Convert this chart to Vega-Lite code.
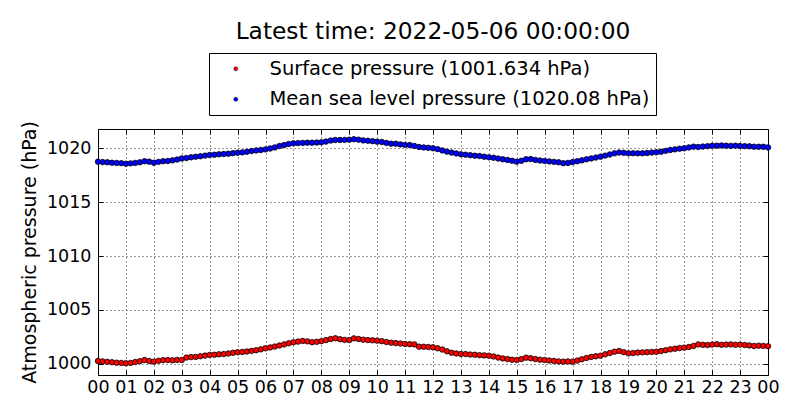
{
"$schema": "https://vega.github.io/schema/vega-lite/v6.json",
"width": 670, "height": 246,
"autosize": {"type": "none"},
"padding": {"left": 98, "top": 129, "right": 32, "bottom": 45},
"background": "white",
"title": {"text": "Latest time: 2022-05-06 00:00:00", "font": "DejaVu Sans", "fontSize": 23.3, "fontWeight": "normal", "color": "black", "anchor": "middle", "frame": "group", "baseline": "alphabetic", "offset": -10},
"datasets": {
"sp": [
{"m":0,"v":1000.26},{"m":10,"v":1000.22},{"m":20,"v":1000.18},{"m":30,"v":1000.14},{"m":40,"v":1000.10},{"m":50,"v":1000.08},
{"m":60,"v":1000.05},{"m":70,"v":1000.08},{"m":80,"v":1000.16},{"m":90,"v":1000.24},{"m":100,"v":1000.35},{"m":110,"v":1000.26},
{"m":120,"v":1000.20},{"m":130,"v":1000.28},{"m":140,"v":1000.34},{"m":150,"v":1000.35},{"m":160,"v":1000.32},{"m":170,"v":1000.36},
{"m":180,"v":1000.35},{"m":190,"v":1000.58},{"m":200,"v":1000.62},{"m":210,"v":1000.64},{"m":220,"v":1000.70},{"m":230,"v":1000.76},
{"m":240,"v":1000.82},{"m":250,"v":1000.84},{"m":260,"v":1000.88},{"m":270,"v":1000.90},{"m":280,"v":1000.96},{"m":290,"v":1001.02},
{"m":300,"v":1001.07},{"m":310,"v":1001.10},{"m":320,"v":1001.14},{"m":330,"v":1001.20},{"m":340,"v":1001.26},{"m":350,"v":1001.34},
{"m":360,"v":1001.44},{"m":370,"v":1001.52},{"m":380,"v":1001.60},{"m":390,"v":1001.70},{"m":400,"v":1001.80},{"m":410,"v":1001.90},
{"m":420,"v":1002.00},{"m":430,"v":1002.06},{"m":440,"v":1002.12},{"m":450,"v":1002.08},{"m":460,"v":1002.00},{"m":470,"v":1002.04},
{"m":480,"v":1002.10},{"m":490,"v":1002.20},{"m":500,"v":1002.30},{"m":510,"v":1002.37},{"m":520,"v":1002.28},{"m":530,"v":1002.22},
{"m":540,"v":1002.20},{"m":550,"v":1002.36},{"m":560,"v":1002.30},{"m":570,"v":1002.24},{"m":580,"v":1002.20},{"m":590,"v":1002.18},
{"m":600,"v":1002.15},{"m":610,"v":1002.10},{"m":620,"v":1002.02},{"m":630,"v":1001.96},{"m":640,"v":1001.92},{"m":650,"v":1001.88},
{"m":660,"v":1001.84},{"m":670,"v":1001.82},{"m":680,"v":1001.80},{"m":690,"v":1001.59},{"m":700,"v":1001.58},{"m":710,"v":1001.56},
{"m":720,"v":1001.53},{"m":730,"v":1001.44},{"m":740,"v":1001.32},{"m":750,"v":1001.16},{"m":760,"v":1001.02},{"m":770,"v":1000.96},
{"m":780,"v":1000.91},{"m":790,"v":1000.90},{"m":800,"v":1000.86},{"m":810,"v":1000.84},{"m":820,"v":1000.80},{"m":830,"v":1000.78},
{"m":840,"v":1000.75},{"m":850,"v":1000.68},{"m":860,"v":1000.58},{"m":870,"v":1000.50},{"m":880,"v":1000.44},{"m":890,"v":1000.38},
{"m":900,"v":1000.35},{"m":910,"v":1000.44},{"m":920,"v":1000.57},{"m":930,"v":1000.52},{"m":940,"v":1000.44},{"m":950,"v":1000.38},
{"m":960,"v":1000.35},{"m":970,"v":1000.30},{"m":980,"v":1000.26},{"m":990,"v":1000.22},{"m":1000,"v":1000.20},{"m":1010,"v":1000.22},
{"m":1020,"v":1000.20},{"m":1030,"v":1000.30},{"m":1040,"v":1000.42},{"m":1050,"v":1000.54},{"m":1060,"v":1000.64},{"m":1070,"v":1000.70},
{"m":1080,"v":1000.75},{"m":1090,"v":1000.88},{"m":1100,"v":1001.00},{"m":1110,"v":1001.12},{"m":1120,"v":1001.19},{"m":1130,"v":1001.08},
{"m":1140,"v":1000.97},{"m":1150,"v":1001.00},{"m":1160,"v":1001.04},{"m":1170,"v":1001.06},{"m":1180,"v":1001.08},{"m":1190,"v":1001.10},
{"m":1200,"v":1001.12},{"m":1210,"v":1001.18},{"m":1220,"v":1001.26},{"m":1230,"v":1001.34},{"m":1240,"v":1001.40},{"m":1250,"v":1001.46},
{"m":1260,"v":1001.50},{"m":1270,"v":1001.56},{"m":1280,"v":1001.66},{"m":1290,"v":1001.80},{"m":1300,"v":1001.76},{"m":1310,"v":1001.74},
{"m":1320,"v":1001.78},{"m":1330,"v":1001.82},{"m":1340,"v":1001.76},{"m":1350,"v":1001.78},{"m":1360,"v":1001.80},{"m":1370,"v":1001.76},
{"m":1380,"v":1001.78},{"m":1390,"v":1001.74},{"m":1400,"v":1001.70},{"m":1410,"v":1001.65},{"m":1420,"v":1001.68},{"m":1430,"v":1001.66},
{"m":1440,"v":1001.634}
],
"msl": [
{"m":0,"v":1018.76},{"m":10,"v":1018.72},{"m":20,"v":1018.70},{"m":30,"v":1018.66},{"m":40,"v":1018.64},{"m":50,"v":1018.62},
{"m":60,"v":1018.57},{"m":70,"v":1018.60},{"m":80,"v":1018.64},{"m":90,"v":1018.70},{"m":100,"v":1018.80},{"m":110,"v":1018.76},
{"m":120,"v":1018.66},{"m":130,"v":1018.74},{"m":140,"v":1018.80},{"m":150,"v":1018.82},{"m":160,"v":1018.88},{"m":170,"v":1018.96},
{"m":180,"v":1019.06},{"m":190,"v":1019.10},{"m":200,"v":1019.16},{"m":210,"v":1019.22},{"m":220,"v":1019.26},{"m":230,"v":1019.32},
{"m":240,"v":1019.38},{"m":250,"v":1019.40},{"m":260,"v":1019.44},{"m":270,"v":1019.47},{"m":280,"v":1019.50},{"m":290,"v":1019.55},
{"m":300,"v":1019.59},{"m":310,"v":1019.62},{"m":320,"v":1019.68},{"m":330,"v":1019.75},{"m":340,"v":1019.80},{"m":350,"v":1019.84},
{"m":360,"v":1019.90},{"m":370,"v":1019.98},{"m":380,"v":1020.08},{"m":390,"v":1020.21},{"m":400,"v":1020.30},{"m":410,"v":1020.40},
{"m":420,"v":1020.46},{"m":430,"v":1020.48},{"m":440,"v":1020.50},{"m":450,"v":1020.52},{"m":460,"v":1020.52},{"m":470,"v":1020.53},
{"m":480,"v":1020.55},{"m":490,"v":1020.62},{"m":500,"v":1020.72},{"m":510,"v":1020.77},{"m":520,"v":1020.77},{"m":530,"v":1020.78},
{"m":540,"v":1020.80},{"m":550,"v":1020.84},{"m":560,"v":1020.80},{"m":570,"v":1020.73},{"m":580,"v":1020.70},{"m":590,"v":1020.66},
{"m":600,"v":1020.61},{"m":610,"v":1020.58},{"m":620,"v":1020.50},{"m":630,"v":1020.43},{"m":640,"v":1020.42},{"m":650,"v":1020.36},
{"m":660,"v":1020.31},{"m":670,"v":1020.30},{"m":680,"v":1020.22},{"m":690,"v":1020.12},{"m":700,"v":1020.08},{"m":710,"v":1020.04},
{"m":720,"v":1020.00},{"m":730,"v":1019.92},{"m":740,"v":1019.80},{"m":750,"v":1019.69},{"m":760,"v":1019.60},{"m":770,"v":1019.52},
{"m":780,"v":1019.44},{"m":790,"v":1019.40},{"m":800,"v":1019.36},{"m":810,"v":1019.31},{"m":820,"v":1019.28},{"m":830,"v":1019.22},
{"m":840,"v":1019.16},{"m":850,"v":1019.12},{"m":860,"v":1019.05},{"m":870,"v":1018.98},{"m":880,"v":1018.92},{"m":890,"v":1018.84},
{"m":900,"v":1018.76},{"m":910,"v":1018.84},{"m":920,"v":1018.98},{"m":930,"v":1019.00},{"m":940,"v":1018.92},{"m":950,"v":1018.86},
{"m":960,"v":1018.82},{"m":970,"v":1018.78},{"m":980,"v":1018.74},{"m":990,"v":1018.70},{"m":1000,"v":1018.62},{"m":1010,"v":1018.64},
{"m":1020,"v":1018.72},{"m":1030,"v":1018.80},{"m":1040,"v":1018.88},{"m":1050,"v":1018.98},{"m":1060,"v":1019.06},{"m":1070,"v":1019.14},
{"m":1080,"v":1019.22},{"m":1090,"v":1019.32},{"m":1100,"v":1019.42},{"m":1110,"v":1019.53},{"m":1120,"v":1019.60},{"m":1130,"v":1019.58},
{"m":1140,"v":1019.53},{"m":1150,"v":1019.54},{"m":1160,"v":1019.53},{"m":1170,"v":1019.53},{"m":1180,"v":1019.56},{"m":1190,"v":1019.60},
{"m":1200,"v":1019.63},{"m":1210,"v":1019.68},{"m":1220,"v":1019.76},{"m":1230,"v":1019.84},{"m":1240,"v":1019.90},{"m":1250,"v":1019.96},
{"m":1260,"v":1020.00},{"m":1270,"v":1020.08},{"m":1280,"v":1020.15},{"m":1290,"v":1020.12},{"m":1300,"v":1020.16},{"m":1310,"v":1020.20},
{"m":1320,"v":1020.24},{"m":1330,"v":1020.24},{"m":1340,"v":1020.26},{"m":1350,"v":1020.24},{"m":1360,"v":1020.22},{"m":1370,"v":1020.24},
{"m":1380,"v":1020.21},{"m":1390,"v":1020.20},{"m":1400,"v":1020.18},{"m":1410,"v":1020.15},{"m":1420,"v":1020.14},{"m":1430,"v":1020.14},
{"m":1440,"v":1020.08}
]
},
"layer": [
{
"data": {"name": "sp"},
"mark": {"type": "point", "filled": true, "shape": "circle", "size": 30, "stroke": "black", "strokeWidth": 0.8, "opacity": 1},
"encoding": {
"x": {"field": "m", "type": "quantitative", "scale": {"domain": [0, 1440], "nice": false, "zero": false},
"axis": {"orient": "bottom", "title": null, "values": [0,60,120,180,240,300,360,420,480,540,600,660,720,780,840,900,960,1020,1080,1140,1200,1260,1320,1380,1440],
"labelExpr": "(floor(datum.value/60)%24 < 10 ? '0' : '') + (floor(datum.value/60)%24)", "labelFlush": false, "labelOverlap": false, "labelPadding": 8, "grid": true}},
"y": {"field": "v", "type": "quantitative", "scale": {"domain": [998.96, 1021.79], "nice": false, "zero": false},
"axis": {"orient": "left", "title": "Atmospheric pressure (hPa)", "titleFontSize": 19, "values": [1000,1005,1010,1015,1020], "format": "d", "labelFlush": false, "labelPadding": 12, "titlePadding": 7, "grid": true}},
"color": {"datum": "sp", "type": "nominal", "scale": {"domain": ["sp", "msl"], "range": ["red", "blue"]},
"legend": {"orient": "none", "legendX": 111, "legendY": -76, "title": null, "labelExpr": "datum.value == 'sp' ? 'Surface pressure (1001.634 hPa)' : 'Mean sea level pressure (1020.08 hPa)'"}}
}
},
{
"data": {"name": "msl"},
"mark": {"type": "point", "filled": true, "shape": "circle", "size": 30, "stroke": "black", "strokeWidth": 0.8, "opacity": 1},
"encoding": {
"x": {"field": "m", "type": "quantitative", "scale": {"domain": [0, 1440], "nice": false, "zero": false},
"axis": {"orient": "top", "title": null, "values": [0,60,120,180,240,300,360,420,480,540,600,660,720,780,840,900,960,1020,1080,1140,1200,1260,1320,1380,1440], "labels": false, "grid": false}},
"y": {"field": "v", "type": "quantitative", "scale": {"domain": [998.96, 1021.79], "nice": false, "zero": false},
"axis": {"orient": "right", "title": null, "values": [1000,1005,1010,1015,1020], "labels": false, "grid": false}},
"color": {"datum": "msl", "type": "nominal", "scale": {"domain": ["sp", "msl"], "range": ["red", "blue"]}}
}
}
],
"resolve": {"axis": {"x": "independent", "y": "independent"}},
"config": {
"view": {"stroke": null},
"axis": {"domainColor": "black", "domainWidth": 1, "tickColor": "black", "tickSize": -5, "tickWidth": 1, "labelColor": "black", "titleColor": "black", "labelFont": "DejaVu Sans", "titleFont": "DejaVu Sans", "labelFontSize": 17.5, "titleFontSize": 17.5, "titleFontWeight": "normal", "gridColor": "black", "gridDash": [1, 3], "gridOpacity": 0.8, "gridWidth": 1},
"legend": {"strokeColor": "black", "fillColor": "white", "padding": 6, "rowPadding": 9.5, "symbolType": "circle", "symbolSize": 16, "symbolStrokeColor": "black", "symbolStrokeWidth": 0.5, "symbolOffset": 11, "labelOffset": 24, "labelFont": "DejaVu Sans", "labelFontSize": 19.5, "labelColor": "black", "labelLimit": 600, "cornerRadius": 0}
}
}
